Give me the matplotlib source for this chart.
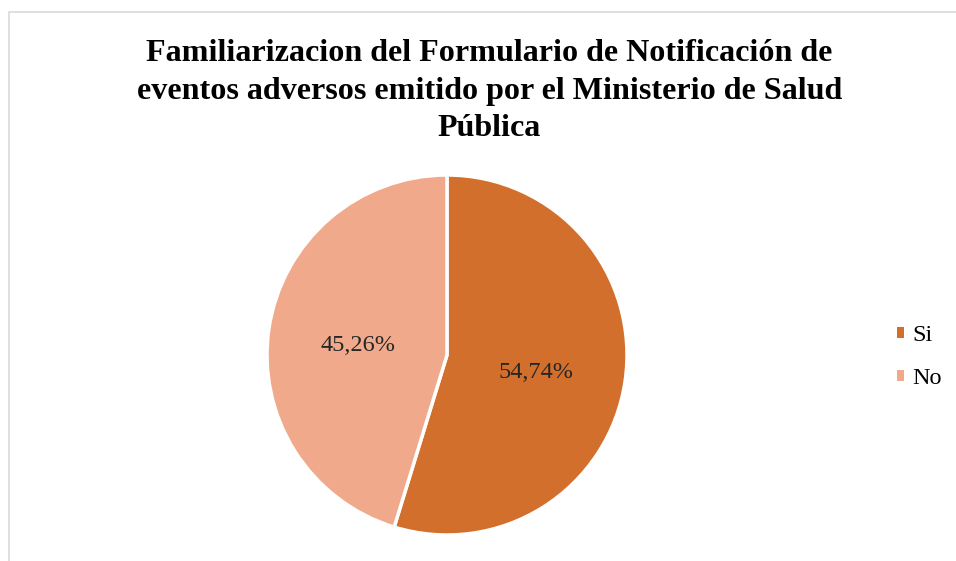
import matplotlib.pyplot as plt
from matplotlib.patches import Rectangle, Patch

labels = ["Si", "No"]
values = [54.74, 45.26]
colors = ["#D36F2C", "#F0A98B"]
title = ("Familiarizacion del Formulario de Notificación de\n"
         "eventos adversos emitido por el Ministerio de Salud\n"
         "Pública")

plt.rcParams['font.family'] = ['Liberation Serif', 'DejaVu Serif']

fig = plt.figure(figsize=(9.56, 5.61), dpi=100)
W, H = 956, 561

# outer chart border
fig.patches.append(Rectangle((8.5 / W, -0.01), 1.02, 1 - 11.5 / H + 0.01,
                             transform=fig.transFigure, fill=False,
                             edgecolor="#D9D9D9", linewidth=1.2))

r = 180
cx, cy = 447, 355
ax = fig.add_axes([(cx - r) / W, 1 - (cy + r) / H, 2 * r / W, 2 * r / H])
wedges, texts, autotexts = ax.pie(
    values, colors=colors, startangle=90, counterclock=False,
    autopct=lambda p: f"{p:.2f}%".replace(".", ","), pctdistance=0.5,
    wedgeprops=dict(edgecolor="white", linewidth=2.5),
    textprops=dict(fontsize=17.5, color="#262626"))
for t in autotexts:
    x, y = t.get_position()
    t.set_position((x, y - 4 / r))
ax.set_xlim(-1, 1)
ax.set_ylim(-1, 1)
ax.set_aspect("equal")

fig.text(489.5 / W, 1 - 91 / H, title, ha="center", va="center",
         fontsize=23.1, fontweight="bold", linespacing=1.38)

handles = [Patch(facecolor=c, edgecolor="none") for c in colors]
ax.legend(handles, labels, loc="center left",
          bbox_to_anchor=(885 / W, 1 - 357 / H), bbox_transform=fig.transFigure,
          frameon=False, fontsize=17.5, handlelength=0.3, handleheight=0.3,
          handletextpad=0.32, labelspacing=0.9, borderpad=0)

fig.savefig("out.png", dpi=100)
